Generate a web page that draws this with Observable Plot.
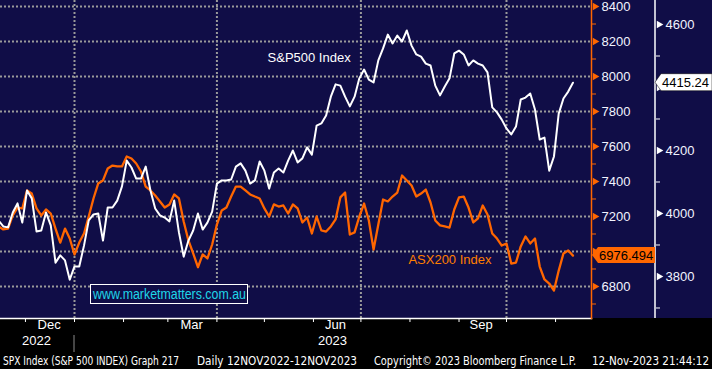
<!DOCTYPE html>
<html><head><meta charset="utf-8">
<script src="https://cdn.jsdelivr.net/npm/d3@7"></script>
<script src="https://cdn.jsdelivr.net/npm/@observablehq/plot@0.6"></script>
<style>
html,body{margin:0;padding:0;background:#000;}
#chart{width:712px;height:369px;overflow:hidden;}
svg{display:block;}
</style></head><body><div id="chart"></div>
<script>
// ---- data (one value every 3 calendar days from 14 Nov 2022) ----
const startDate = "2022-11-14";
const stepDays = 3;
const spxValues = [
3978,3959,3956,4003,4032,3971,4073,4048,3943,3946,
4003,3962,3844,3867,3851,3790,3832,3832,3898,3978,
3997,4000,3914,4019,4019,4041,4086,4168,4146,4111,
4111,4149,4073,4016,3994,3987,3975,4041,3940,3863,
3914,3946,4000,3949,3971,4006,4095,4105,4105,4108,
4149,4159,4136,4095,4105,4165,4136,4079,4130,4143,
4130,4168,4200,4162,4175,4210,4187,4279,4286,4311,
4371,4410,4406,4371,4340,4371,4429,4457,4425,4416,
4486,4524,4568,4540,4565,4546,4581,4533,4505,4498,
4476,4470,4406,4375,4403,4429,4508,4517,4505,4470,
4486,4476,4470,4448,4337,4321,4298,4270,4251,4276,
4362,4368,4381,4330,4235,4241,4136,4181,4317,4365,
4387,4415.24];
const asxValues = [
7143,7126,7131,7206,7251,7246,7349,7331,7246,7206,
7240,7217,7131,7051,7131,7074,6983,7051,7103,7200,
7303,7389,7406,7474,7491,7486,7486,7543,7531,7503,
7457,7371,7349,7320,7286,7251,7269,7326,7303,7171,
7063,6989,6910,6983,6960,7040,7154,7234,7251,7314,
7371,7371,7349,7326,7314,7303,7246,7200,7269,7257,
7263,7217,7269,7246,7166,7194,7103,7200,7120,7114,
7143,7183,7309,7337,7097,7109,7200,7274,7177,7011,
7154,7297,7286,7314,7337,7434,7406,7377,7314,7331,
7354,7280,7177,7149,7143,7137,7240,7309,7314,7251,
7166,7189,7263,7211,7103,7074,7034,7046,6931,6937,
7029,7086,7046,7074,6914,6840,6817,6777,6891,6989,
7006,6976.494];
const asxMajorTicks = [6800,7000,7200,7400,7600,7800,8000,8200,8400];
const asxMinorTicks = [6700,6900,7100,7300,7500,7700,7900,8100,8300];
const spxMajorTicks = [3800,4000,4200,4400,4600];
const spxMinorTicks = [3700,3900,4100,4300,4500];
const gridDates = ["2023-01-01","2023-04-01","2023-07-01","2023-10-01"];
const monthTickDates = ["2022-12-01","2023-01-01","2023-02-01","2023-03-01","2023-04-01","2023-05-01","2023-06-01","2023-07-01","2023-08-01","2023-09-01","2023-10-01","2023-11-01"];
const monthLabelDates = ["2022-12-16","2023-03-16","2023-06-15","2023-09-15"];
const monthLabelTexts = ["Dec","Mar","Jun","Sep"];
const yearLabelDates = ["2022-12-08","2023-06-13"];
const yearLabelTexts = ["2022","2023"];
const seriesNames = ["S&P500 Index","ASX200 Index"];
const footerTexts = ["SPX Index (S&P 500 INDEX) Graph 217","Daily 12NOV2022-12NOV2023","Copyright\u00A9 2023 Bloomberg Finance L.P.","12-Nov-2023 21:44:12"];

// ---- build ----
const start = new Date(startDate + "T00:00Z");
const dates = spxValues.map((_, i) => d3.utcDay.offset(start, i * stepDays));
// dual axis alignment: SPX 3800 sits at ASX 6857.14, 200 SPX points = 360 ASX points
const spxToAsx = v => 6857.14 + (v - 3800) * 1.8;
const spxData = spxValues.map((v, i) => ({date: dates[i], value: v}));
const asxData = asxValues.map((v, i) => ({date: dates[i], value: v}));
const D = s => new Date(s + "T00:00Z");
const spxLast = spxValues[spxValues.length - 1];
const asxLast = asxValues[asxValues.length - 1];
// tick labels hidden behind the last-value tags in the reference
const asxLabelTicks = asxMajorTicks.filter(t => Math.abs(t - asxLast) > 60);
const spxLabelTicks = spxMajorTicks.filter(t => Math.abs(t - spxLast) > 30);

const navy = "#100d47", orange = "#ff6600", gridColor = "#9a9a9a", labelColor = "#f2f4ff";
const font = "'Liberation Sans', Arial, sans-serif";

const chart = Plot.plot({
  width: 712, height: 369,
  marginLeft: 0, marginRight: 121, marginTop: 0, marginBottom: 51,
  style: {background: `linear-gradient(to bottom, ${navy} 0px, ${navy} 318px, #000 318px, #000 369px)`, color: "#fff", fontFamily: font, fontSize: "13px", overflow: "visible"},
  x: {type: "utc", domain: [new Date("2022-11-15T05:38Z"), new Date("2023-11-23T17:16Z")], axis: null},
  y: {domain: [6617.1, 8434.3], axis: null},
  marks: [
    Plot.ruleY(asxMajorTicks, {y: d => d, stroke: gridColor, strokeWidth: 2, strokeDasharray: "2,2"}),
    Plot.ruleX(gridDates, {x: d => D(d), stroke: gridColor, strokeWidth: 2, strokeDasharray: "2,2"}),
    Plot.line(asxData, {x: "date", y: "value", stroke: orange, strokeWidth: 2.3, clip: true}),
    Plot.line(spxData, {x: "date", y: d => spxToAsx(d.value), stroke: "#ffffff", strokeWidth: 2, clip: true}),
    Plot.text([seriesNames[0]], {x: D("2023-05-03"), y: spxToAsx(4495), text: d => d, textAnchor: "start", fill: "#ffffff", fontSize: 13}),
    Plot.text([seriesNames[1]], {x: D("2023-07-31"), y: 6954, text: d => d, textAnchor: "start", fill: "#ff7f00", fontSize: 13}),
    Plot.frame({anchor: "bottom", stroke: "#ffffff", strokeWidth: 1.5}),
    Plot.frame({anchor: "right", stroke: orange, strokeWidth: 1.5}),
    // ASX (orange) axis
    Plot.axisY(asxMinorTicks, {anchor: "right", label: null, tickSize: 4, tickFormat: () => "", color: orange}),
    Plot.dot(asxMajorTicks, {y: d => d, frameAnchor: "right", dx: 3.5, symbol: "triangle", rotate: 90, r: 2.8, fill: orange, stroke: null}),
    Plot.text(asxLabelTicks, {y: d => d, text: d => String(d), frameAnchor: "right", dx: 10, textAnchor: "start", fill: labelColor, fontSize: 13}),
    // SPX (white) axis
    Plot.axisY(spxMinorTicks.map(spxToAsx), {anchor: "right", label: null, dx: 64, tickSize: 4, tickFormat: () => "", color: "#ffffff"}),
    Plot.dot(spxMajorTicks, {y: d => spxToAsx(d), frameAnchor: "right", dx: 67.5, symbol: "triangle", rotate: 90, r: 2.8, fill: "#ffffff", stroke: null}),
    Plot.text(spxLabelTicks, {y: d => spxToAsx(d), text: d => String(d), frameAnchor: "right", dx: 74, textAnchor: "start", fill: labelColor, fontSize: 13}),
    // time axis
    Plot.axisX(monthTickDates.map(D), {anchor: "bottom", label: null, tickSize: 4, tickFormat: () => "", color: "#ffffff"}),
    Plot.text(monthLabelDates, {x: d => D(d), text: (d, i) => monthLabelTexts[i], frameAnchor: "bottom", dy: 10, fill: "#ffffff", fontSize: 13}),
    Plot.text(yearLabelDates, {x: d => D(d), text: (d, i) => yearLabelTexts[i], frameAnchor: "bottom", dy: 26, fill: "#ffffff", fontSize: 13})
  ]
});
document.getElementById("chart").appendChild(chart);

const svg = d3.select(chart);
const xs = chart.scale("x"), ys = chart.scale("y");

// white (SPX) axis line
svg.append("line").attr("x1", 655).attr("x2", 655).attr("y1", 0).attr("y2", 318)
  .attr("stroke", "#fff").attr("stroke-width", 1.5);

// year separator
const xj = xs.apply(D("2023-01-01"));
svg.append("line").attr("x1", xj).attr("x2", xj).attr("y1", 335).attr("y2", 352)
  .attr("stroke", "#8a8a8a").attr("stroke-width", 1);

// watermark box
svg.append("rect").attr("x", 90.5).attr("y", 284.5).attr("width", 157).attr("height", 19)
  .attr("fill", navy).attr("stroke", "#fff").attr("stroke-width", 1);
svg.append("text").attr("x", 93).attr("y", 299).attr("fill", "#1fd6e8")
  .attr("text-anchor", "start").attr("font-size", 14).attr("font-family", font)
  .attr("textLength", 153).attr("lengthAdjust", "spacingAndGlyphs")
  .text("www.marketmatters.com.au");

// last-value tags
const yw = ys.apply(spxToAsx(spxLast));
svg.append("path")
  .attr("d", `M655,${yw} L661,${yw - 8.5} L712,${yw - 8.5} L712,${yw + 8.5} L661,${yw + 8.5} Z`)
  .attr("fill", "#fff").attr("stroke", "#000").attr("stroke-width", 0.5);
svg.append("text").attr("x", 662).attr("y", yw + 4.8).attr("fill", "#000")
  .attr("text-anchor", "start").attr("font-size", 13).attr("font-family", font).text(String(spxLast));
const yo = ys.apply(asxLast);
svg.append("path")
  .attr("d", `M592,${yo} L598,${yo - 8} L655,${yo - 8} L655,${yo + 8} L598,${yo + 8} Z`)
  .attr("fill", orange);
svg.append("text").attr("x", 599).attr("y", yo + 4.8).attr("fill", "#000")
  .attr("text-anchor", "start").attr("font-size", 13).attr("font-family", font).text(String(asxLast));

// footer
const footerX = [3, 197, 374, 592];
const footerW = [176, 160, 202, 117];
footerTexts.forEach((t, i) => {
  svg.append("text").attr("x", footerX[i]).attr("y", 365).attr("fill", "#fff")
    .attr("text-anchor", "start")
    .attr("font-size", 11.5).attr("font-family", "'Liberation Sans Narrow', 'DejaVu Sans Condensed', sans-serif")
    .attr("textLength", footerW[i]).attr("lengthAdjust", "spacingAndGlyphs").text(t);
});
</script></body></html>
